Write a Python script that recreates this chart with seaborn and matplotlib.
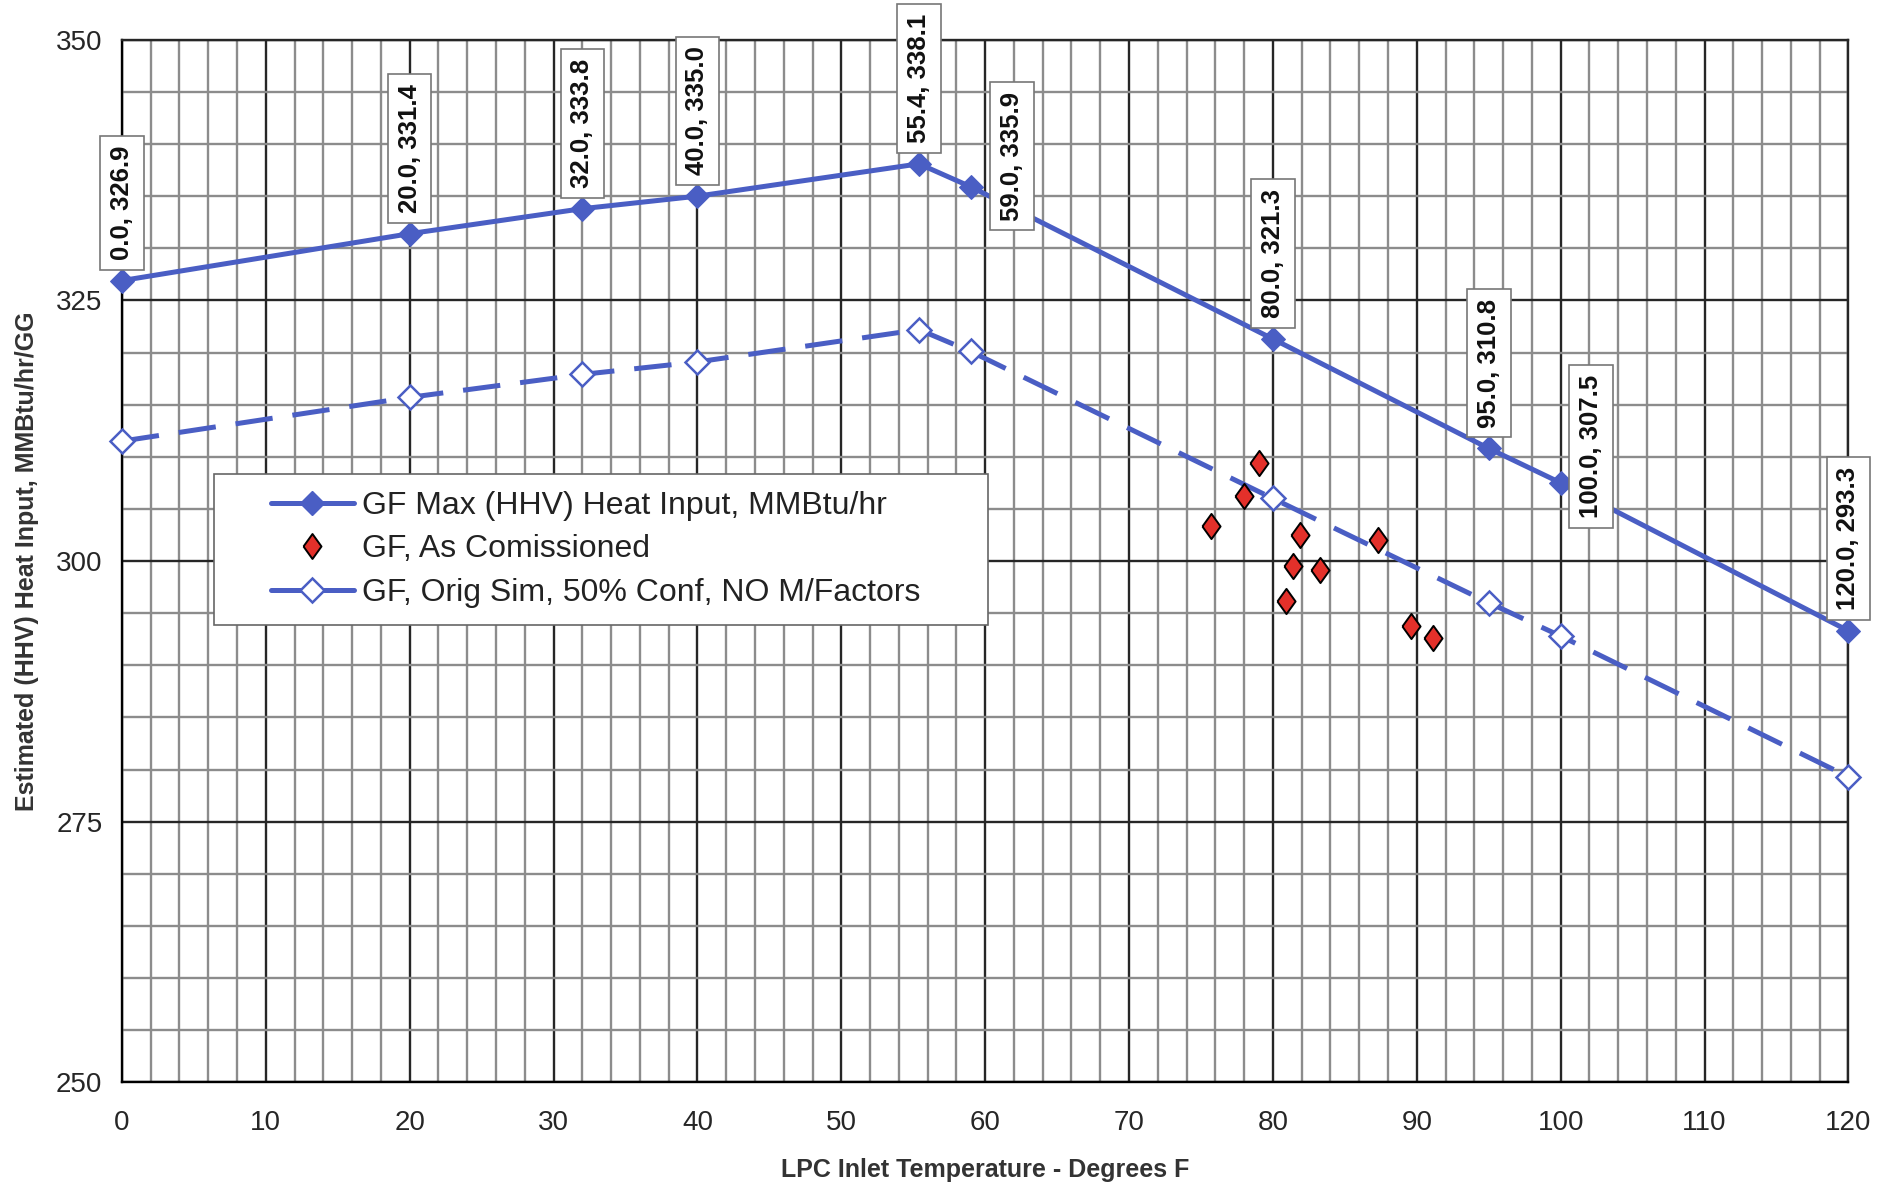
import matplotlib
matplotlib.use("Agg")
import matplotlib.pyplot as plt
from matplotlib.lines import Line2D
from matplotlib.patches import Rectangle
from matplotlib.ticker import MultipleLocator
import seaborn as sns

# LPC inlet temperature (deg F) for the two curves
temps = [0.0, 20.0, 32.0, 40.0, 55.4, 59.0, 80.0, 95.0, 100.0, 120.0]
# GF max (HHV) heat input, MMBtu/hr
max_heat = [326.9, 331.4, 333.8, 335.0, 338.1, 335.9, 321.3, 310.8, 307.5, 293.3]
# GF original sim, 50% confidence, no M/factors
orig_sim = [311.5, 315.7, 317.9, 319.1, 322.2, 320.1, 306.0, 296.0, 292.8, 279.3]

# as-commissioned points
comm_temp = [75.7, 78.0, 79.0, 81.9, 81.4, 80.9, 83.3, 87.3, 89.6, 91.1]
comm_heat = [303.4, 306.2, 309.4, 302.5, 299.5, 296.2, 299.1, 302.0, 293.8, 292.6]

series_names = ["GF Max (HHV) Heat Input, MMBtu/hr",
                "GF, As Comissioned",
                "GF, Orig Sim, 50% Conf, NO M/Factors"]

blue = "#4A5EC4"
red = "#E3302A"
# slightly tall diamond, like the Excel marker
tall_diamond = [(-0.72, 0), (0, 1), (0.72, 0), (0, -1), (-0.72, 0)]

sns.set_style("white")
plt.rcParams["font.family"] = ["Liberation Sans", "DejaVu Sans"]

fig = plt.figure(figsize=(18.92, 11.88), dpi=100)
ax = fig.add_axes([0.0644, 0.089, 0.9126, 0.8775])

# grid first so it sits under the data
ax.set_xlim(0, 120)
ax.set_ylim(250, 350)
ax.xaxis.set_major_locator(MultipleLocator(10))
ax.xaxis.set_minor_locator(MultipleLocator(2))
ax.yaxis.set_major_locator(MultipleLocator(25))
ax.yaxis.set_minor_locator(MultipleLocator(5))
ax.grid(which="minor", color="#8c8c8c", linewidth=1.7)
ax.grid(which="major", color="#262626", linewidth=1.7)
ax.set_axisbelow(True)

sns.lineplot(x=temps, y=max_heat, ax=ax, color=blue, linewidth=3.6,
             marker="D", markersize=12, markeredgecolor=blue,
             errorbar=None, zorder=3, clip_on=False)
sns.lineplot(x=temps, y=orig_sim, ax=ax, color=blue, linewidth=3.6,
             marker="D", markersize=12, markerfacecolor="white",
             markeredgecolor=blue, markeredgewidth=1.8,
             errorbar=None, zorder=3, clip_on=False)
ax.lines[-1].set_dashes((7.5, 4.0))
sns.scatterplot(x=comm_temp, y=comm_heat, ax=ax, marker=tall_diamond, s=330,
                color=red, edgecolor="black", linewidth=1.4, zorder=4,
                clip_on=False)

# data labels on the max curve
offsets = {59.0: ((21, 22), "left"), 100.0: ((13, 26), "left")}
for t, h in zip(temps, max_heat):
    (dx, dy), ha = offsets.get(t, ((0, 15), "center"))
    va = "center" if ha == "left" else "bottom"
    ax.annotate(f"{t:.1f}, {h:.1f}", xy=(t, h), xytext=(dx, dy),
                textcoords="offset points", rotation=90,
                ha=ha, va=va, fontsize=18.5, fontweight="bold",
                color="#111111", zorder=6,
                bbox=dict(boxstyle="square,pad=0.38", fc="white",
                          ec="#777777", lw=1.2))

ax.tick_params(axis="both", which="major", length=8, width=1.2,
               color="black", labelsize=20, direction="out")
ax.tick_params(axis="x", which="major", pad=12)
ax.tick_params(axis="y", which="major", pad=6)
ax.tick_params(which="minor", length=0)
for side in ["left", "bottom"]:
    ax.spines[side].set_color("black")
    ax.spines[side].set_linewidth(1.7)
for side in ["top", "right"]:
    ax.spines[side].set_color("#262626")
    ax.spines[side].set_linewidth(1.7)

ax.set_xlabel("LPC Inlet Temperature - Degrees F", fontsize=18,
              fontweight="bold", color="#333333", labelpad=16)
ax.set_ylabel("Estimated (HHV) Heat Input, MMBtu/hr/GG", fontsize=18,
              fontweight="bold", color="#333333", labelpad=12)

# legend box
ax.add_patch(Rectangle((0.113, 0.474), 0.409, 0.127, transform=fig.transFigure,
                       facecolor="white", edgecolor="#666666", lw=1.2,
                       zorder=5, clip_on=False))
handles = [
    Line2D([], [], color=blue, lw=3.6, marker="D", markersize=12),
    Line2D([], [], color=red, lw=0, marker=tall_diamond, markersize=18,
           markeredgecolor="black", markeredgewidth=1.4),
    Line2D([], [], color=blue, lw=3.6, marker="D", markersize=12,
           markerfacecolor="white", markeredgewidth=1.8),
]
leg = ax.legend(handles, series_names, loc="center left",
                bbox_to_anchor=(0.143, 0.5375), bbox_transform=fig.transFigure,
                frameon=False, fontsize=23, handlelength=2.6,
                handletextpad=0.25, labelspacing=0.42, borderpad=0,
                borderaxespad=0)
leg.set_zorder(7)
for txt in leg.get_texts():
    txt.set_color("#222222")

fig.savefig("out.png", dpi=100, facecolor="white")
